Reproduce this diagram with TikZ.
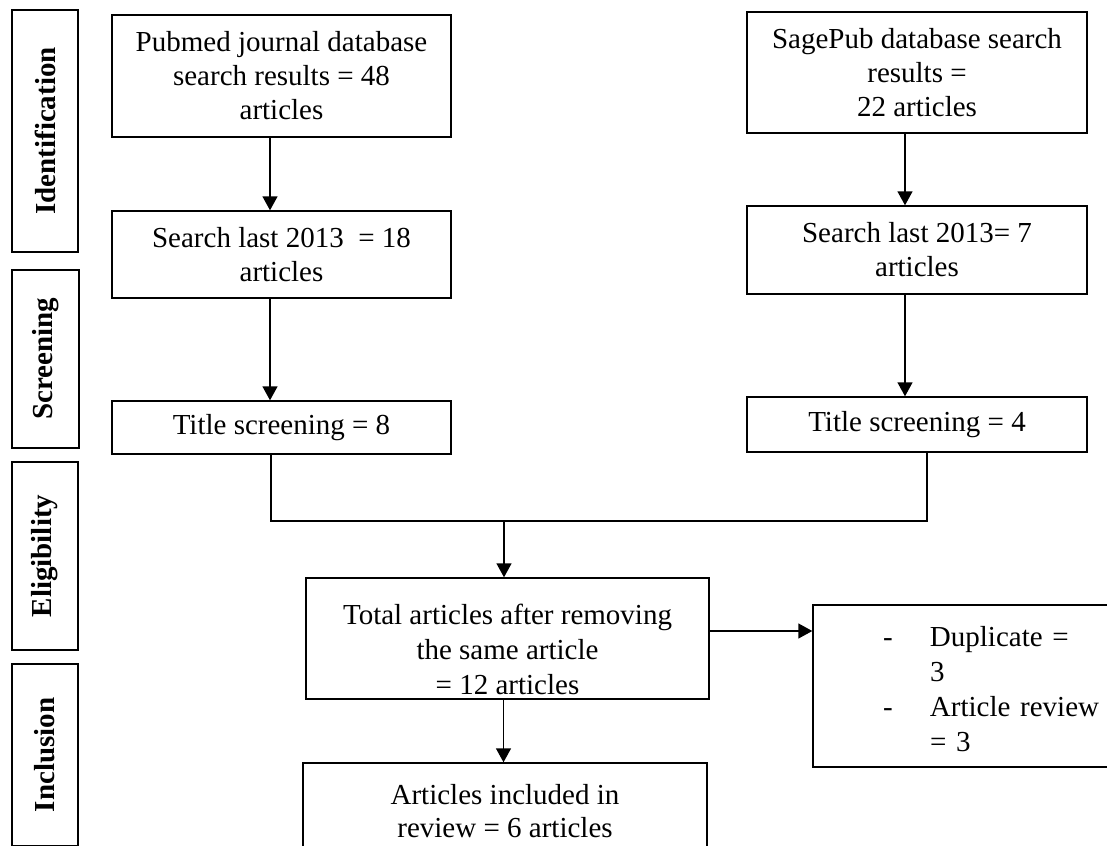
\documentclass[tikz,border=0pt]{standalone}
\usepackage{fontspec}
\setmainfont{Liberation Serif}
\usetikzlibrary{arrows.meta,calc}
\tikzset{
  box/.style={draw, line width=1.4pt, rectangle, inner sep=0pt, align=center,
    font=\fontsize{29}{34}\selectfont},
  lab/.style={draw, line width=1.4pt, rectangle, inner sep=0pt, rotate=90,
    font=\fontsize{29}{34}\selectfont\bfseries},
  conn/.style={line width=1.4pt},
  arr/.style={line width=1.4pt, -{Triangle[length=14pt,width=15pt]}},
}
\begin{document}
\begin{tikzpicture}[x=1pt,y=1pt]
\useasboundingbox (0,0) rectangle (1107,-845);
\clip (0,0) rectangle (1107,-845);
\fill[white] (0,0) rectangle (1107,-845);

% phase labels
\node[lab, minimum width=242pt, minimum height=66pt] (lid) at (45,-131) {Identification};
\node[lab, minimum width=178pt, minimum height=67pt] (lsc) at (45.5,-359) {Screening};
\node[lab, minimum width=188pt, minimum height=66pt] (lel) at (45,-556) {Eligibility};
\node[lab, minimum width=182pt, minimum height=66pt] (lin) at (45,-755) {Inclusion};

% flow boxes
\node[box, minimum width=339pt, minimum height=122pt] (pub) at (281.5,-76)
  {Pubmed journal database\\ search results = 48\\ articles};
\node[box, minimum width=340pt, minimum height=121pt] (sage) at (917,-72.5)
  {SagePub database search\\ results =\\ 22 articles};
\node[box, minimum width=339pt, minimum height=87pt] (sL) at (281.5,-254.5)
  {Search last 2013\ \ = 18\\ articles};
\node[box, minimum width=340pt, minimum height=88pt] (sR) at (917,-250)
  {Search last 2013= 7\\ articles};
\node[box, minimum width=339pt, minimum height=53pt] (tL) at (281.5,-427.5)
  {Title screening = 8};
\node[box, minimum width=340pt, minimum height=55pt] (tR) at (917,-424.5)
  {Title screening = 4};
\node[box, minimum width=403pt, minimum height=121pt,
  font=\fontsize{29}{35}\selectfont] (total) at (507.5,-638.5)
  {\rule{0pt}{43pt}Total articles after removing\\ the same article\\ = 12 articles};
\node[box, minimum width=302pt, minimum height=162pt, text width=302pt, align=left,
  font=\fontsize{29}{35}\selectfont] (excl) at (964,-686)
  {\rule{0pt}{88pt}\hspace*{70pt}\begin{tabular}{@{}p{47pt}@{}l@{}}-&Duplicate =\\ &3\\ -&Article review\\ &= 3\end{tabular}};
\node[box, minimum width=404pt, minimum height=97pt,
  font=\fontsize{29}{33}\selectfont] (final) at (505,-811.5)
  {Articles included in\\ review = 6 articles};

% connectors
\draw[arr] ([xshift=-11.5pt]pub.south) -- ([xshift=-11.5pt]sL.north);
\draw[arr] ([xshift=-12pt]sage.south) -- ([xshift=-12pt]sR.north);
\draw[arr] ([xshift=-11.5pt]sL.south) -- ([xshift=-11.5pt]tL.north);
\draw[arr] ([xshift=-12pt]sR.south) -- ([xshift=-12pt]tR.north);
\coordinate (jL) at (271,-521);
\coordinate (jR) at (927,-521);
\coordinate (jM) at (504,-521);
\coordinate (eY) at (0,-631);
\coordinate (fX) at (503.5,0);
\draw[conn] (tL.south -| jL) -- (jL) -- (jR) -- (tR.south -| jR);
\draw[arr] (jM) -- (total.north -| jM);
\draw[arr] (total.east |- eY) -- (excl.west |- eY);
\draw[arr] (total.south -| fX) -- (final.north -| fX);
\end{tikzpicture}
\end{document}
